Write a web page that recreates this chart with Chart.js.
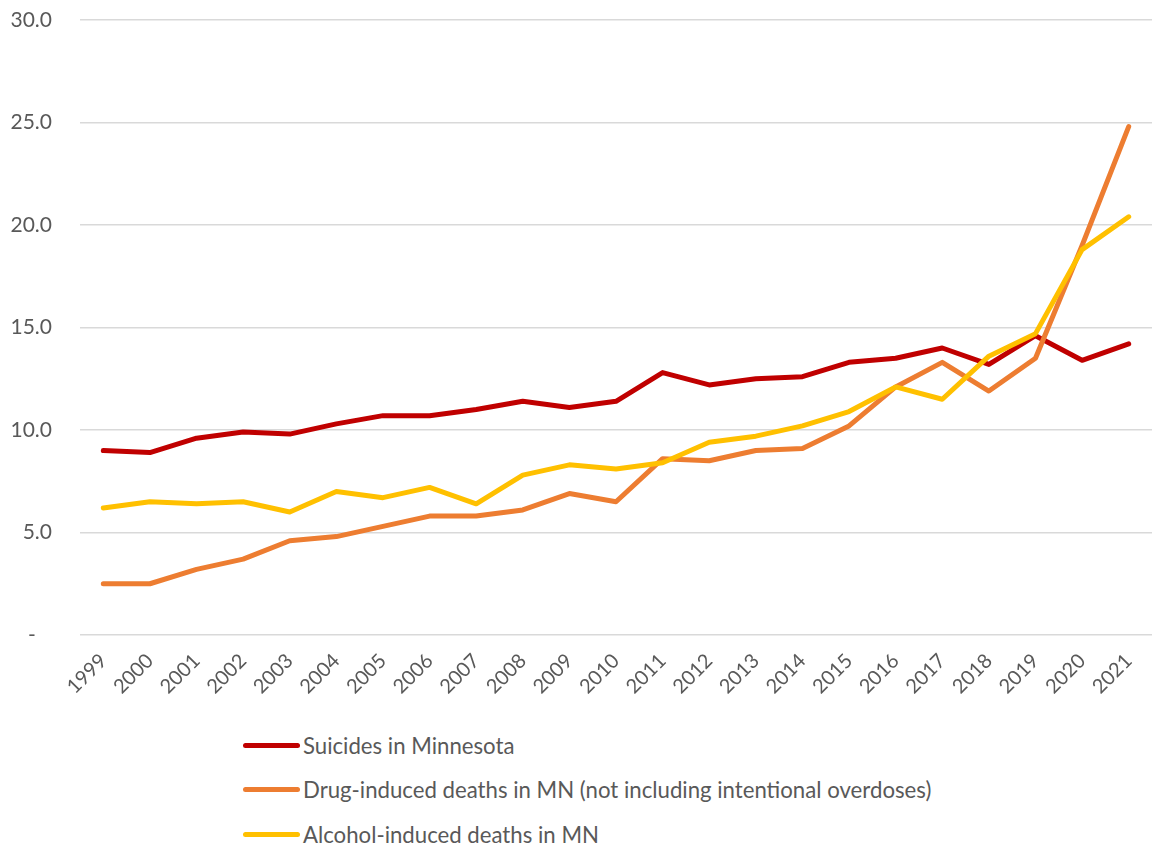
<!DOCTYPE html>
<html>
<head>
<meta charset="utf-8">
<script src="https://cdn.jsdelivr.net/npm/chart.js@4"></script>
<style>
  body { margin: 0; background: #fff; font-family: Lato, "Open Sans", sans-serif; }
  #wrap { position: relative; width: 1153px; height: 700px; }
  #legende { position: absolute; left: 243px; top: 723px; }
  .item { display: flex; align-items: center; height: 44.5px; color: #595959; font-size: 22.2px; }
  .trait { display: inline-block; width: 57px; height: 5px; border-radius: 3px; margin-right: 3px; }
</style>
</head>
<body>
<div id="wrap"><canvas id="graphique"></canvas></div>
<div id="legende"></div>
<script>
const annees = ["1999","2000","2001","2002","2003","2004","2005","2006","2007","2008","2009",
  "2010","2011","2012","2013","2014","2015","2016","2017","2018","2019","2020","2021"];

const suicides = [9.0, 8.9, 9.6, 9.9, 9.8, 10.3, 10.7, 10.7, 11.0, 11.4, 11.1,
  11.4, 12.8, 12.2, 12.5, 12.6, 13.3, 13.5, 14.0, 13.2, 14.6, 13.4, 14.2];

const drogues = [2.5, 2.5, 3.2, 3.7, 4.6, 4.8, 5.3, 5.8, 5.8, 6.1, 6.9,
  6.5, 8.6, 8.5, 9.0, 9.1, 10.2, 12.1, 13.3, 11.9, 13.5, 19.0, 24.8];

const alcool = [6.2, 6.5, 6.4, 6.5, 6.0, 7.0, 6.7, 7.2, 6.4, 7.8, 8.3,
  8.1, 8.4, 9.4, 9.7, 10.2, 10.9, 12.1, 11.5, 13.6, 14.7, 18.8, 20.4];

const graduations = [0, 5, 10, 15, 20, 25, 30];

function serie(label, data, couleur, ordre) {
  return {
    label: label,
    data: data,
    borderColor: couleur,
    backgroundColor: couleur,
    borderWidth: 5,
    borderCapStyle: "round",
    borderJoinStyle: "round",
    pointRadius: 0,
    tension: 0,
    order: ordre
  };
}

const police = { family: "Lato, 'Open Sans', sans-serif", size: 21 };

const graphique = new Chart(document.querySelector("#graphique").getContext("2d"), {
  type: "line",
  data: {
    labels: annees,
    datasets: [
      serie("Suicides in Minnesota", suicides, "#C00000", 3),
      serie("Drug-induced deaths in MN (not including intentional overdoses)", drogues, "#ED7D31", 2),
      serie("Alcohol-induced deaths in MN", alcool, "#FFC000", 1)
    ]
  },
  options: {
    responsive: true,
    maintainAspectRatio: false,
    animation: false,
    layout: { padding: { top: 20, right: 1, left: 0, bottom: 0 } },
    plugins: {
      legend: { display: false },
      tooltip: { enabled: false }
    },
    scales: {
      x: {
        offset: true,
        grid: { display: false },
        border: { display: false },
        ticks: {
          color: "#595959",
          font: { family: police.family, size: 20 },
          minRotation: 45,
          maxRotation: 45,
          padding: 6
        },
        afterFit: (s) => { s.height = 65; }
      },
      y: {
        min: graduations[0],
        max: graduations[graduations.length - 1],
        afterBuildTicks: (s) => { s.ticks = graduations.map(v => ({ value: v })); },
        grid: { color: "#d9d9d9", lineWidth: 1.5, drawTicks: false },
        border: { display: false },
        ticks: {
          color: "#595959",
          font: police,
          padding: 28,
          callback: (v) => v === 0 ? "-   " : v.toFixed(1)
        },
        // largeur fixe, sans marge haute/basse ajoutee par le padding des ticks
        afterFit: (s) => {
          s.width = 80;
          s.paddingTop = 0;
          s.paddingBottom = 0;
        }
      }
    }
  }
});

// legende verticale sous le graphique
const legende = document.querySelector("#legende");
graphique.data.datasets.forEach((ds) => {
  const ligne = document.createElement("div");
  ligne.className = "item";
  const trait = document.createElement("span");
  trait.className = "trait";
  trait.style.background = ds.borderColor;
  const texte = document.createElement("span");
  texte.textContent = ds.label;
  ligne.appendChild(trait);
  ligne.appendChild(texte);
  legende.appendChild(ligne);
});
</script>
</body>
</html>
